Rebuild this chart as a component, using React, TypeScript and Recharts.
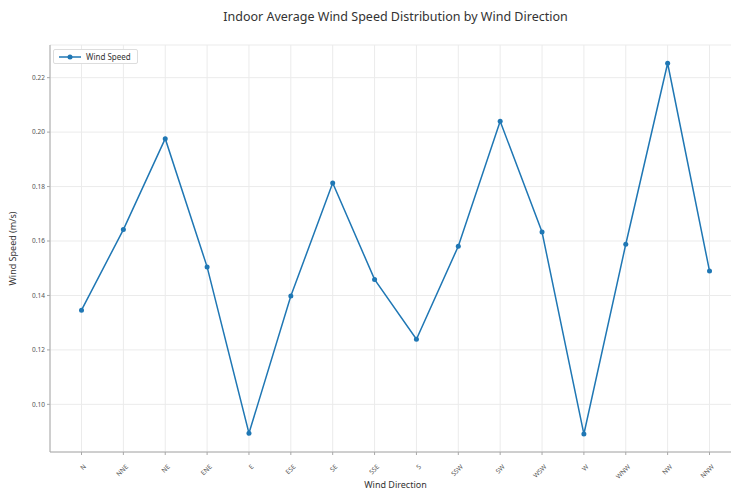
import { LineChart, Line, XAxis, YAxis, CartesianGrid } from 'recharts';

const directions = ['N', 'NNE', 'NE', 'ENE', 'E', 'ESE', 'SE', 'SSE', 'S', 'SSW', 'SW', 'WSW', 'W', 'WNW', 'NW', 'NNW'];
const windSpeeds = [0.1346, 0.1642, 0.1976, 0.1505, 0.0894, 0.1398, 0.1813, 0.1459, 0.1239, 0.1581, 0.204, 0.1633, 0.0891, 0.1588, 0.2253, 0.149];
const yTicks = [0.1, 0.12, 0.14, 0.16, 0.18, 0.2, 0.22];

const data = directions.map((d, i) => ({ direction: d, speed: windSpeeds[i] }));

const FONT = '"Noto Sans", "Open Sans", sans-serif';
const BLUE = '#1f77b4';
const AXIS = '#a8a8a8';

function XTick(props: any) {
  const { x, y, payload } = props;
  return (
    <g transform={`translate(${x + 3},${y + 8}) rotate(-45)`}>
      <text textAnchor="end" fontSize={6.5} fill="#555" fontFamily={FONT} dy={3}>
        {payload.value}
      </text>
    </g>
  );
}

// legend box sits inside the plot, upper left (kept out of recharts layout)
function LegendBox() {
  return (
    <div
      style={{
        position: 'absolute',
        left: 53,
        top: 49,
        display: 'flex',
        alignItems: 'center',
        border: '1px solid #ddd',
        borderRadius: 2,
        background: 'white',
        padding: '1px 6px 1px 4px',
        fontFamily: FONT,
        fontSize: 8,
        color: '#333',
      }}
    >
      <svg width={24} height={8} style={{ marginRight: 4 }}>
        <line x1={1} y1={4} x2={23} y2={4} stroke={BLUE} strokeWidth={1.5} />
        <circle cx={12} cy={4} r={2.5} fill={BLUE} />
      </svg>
      Wind Speed
    </div>
  );
}

export default function App() {
  return (
    <div style={{ position: 'absolute', left: 0, top: 0, width: 731, height: 492, overflow: 'hidden', background: 'white' }}>
      <div
        style={{
          position: 'absolute',
          left: 50,
          top: 8,
          width: 691,
          textAlign: 'center',
          fontFamily: FONT,
          fontSize: 12.5,
          color: '#333',
        }}
      >
        Indoor Average Wind Speed Distribution by Wind Direction
      </div>
      <LineChart width={750} height={492} data={data} margin={{ top: 45, right: 9, bottom: 0, left: 0 }}>
        <CartesianGrid stroke="#ebebeb" />
        <XAxis
          dataKey="direction"
          height={40}
          padding={{ left: 31.5, right: 31.5 }}
          stroke={AXIS}
          tickSize={3}
          tick={<XTick />}
          interval={0}
          label={{ value: 'Wind Direction', position: 'insideBottom', offset: 4, fontSize: 9, fill: '#333', fontFamily: FONT }}
        />
        <XAxis
          xAxisId="top"
          dataKey="direction"
          orientation="top"
          height={0}
          tick={false}
          tickLine={false}
          stroke={AXIS}
          padding={{ left: 31.5, right: 31.5 }}
        />
        <YAxis
          width={50}
          domain={[0.0825, 0.232]}
          ticks={yTicks}
          stroke={AXIS}
          tickSize={3}
          tickFormatter={(v: number) => v.toFixed(2)}
          tick={{ fontSize: 6.5, fill: '#555', fontFamily: FONT }}
          label={{ value: 'Wind Speed (m/s)', angle: -90, position: 'insideLeft', offset: 13, fontSize: 9, fill: '#333', fontFamily: FONT, style: { textAnchor: 'middle' } }}
        />
        <Line
          type="linear"
          dataKey="speed"
          stroke={BLUE}
          strokeWidth={1.5}
          dot={{ r: 2.5, fill: BLUE, stroke: BLUE, strokeWidth: 0 }}
          activeDot={false}
          isAnimationActive={false}
        />
      </LineChart>
      <LegendBox />
    </div>
  );
}
